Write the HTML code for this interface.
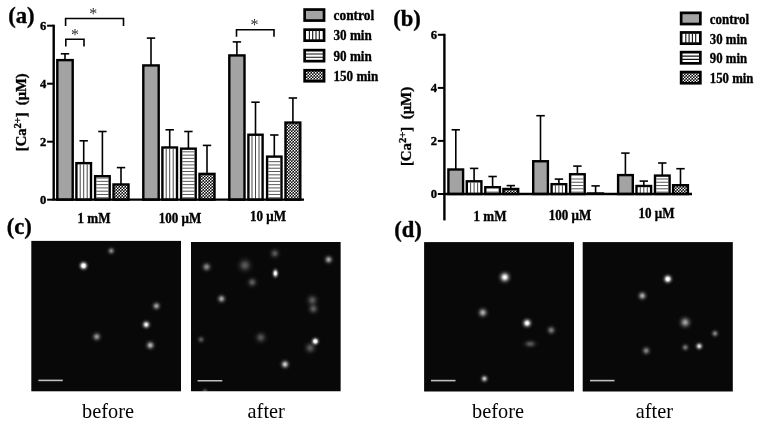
<!DOCTYPE html>
<html lang="en"><head><meta charset="utf-8"><title>Figure</title>
<style>html,body{margin:0;padding:0;background:#fff}svg{display:block}</style></head><body>
<svg width="762" height="426" viewBox="0 0 762 426">
<defs>
<pattern id="pc" width="3" height="3" patternUnits="userSpaceOnUse"><rect width="3" height="3" fill="#0a0a0a"/><circle cx="0.75" cy="0.75" r="0.84" fill="#fff"/><circle cx="2.25" cy="2.25" r="0.84" fill="#fff"/></pattern>
<radialGradient id="g80"><stop offset="0.0" stop-color="#fff" stop-opacity="0.314"/><stop offset="0.1" stop-color="#fff" stop-opacity="0.300"/><stop offset="0.2" stop-color="#fff" stop-opacity="0.262"/><stop offset="0.3" stop-color="#fff" stop-opacity="0.209"/><stop offset="0.4" stop-color="#fff" stop-opacity="0.153"/><stop offset="0.5" stop-color="#fff" stop-opacity="0.102"/><stop offset="0.6" stop-color="#fff" stop-opacity="0.062"/><stop offset="0.7" stop-color="#fff" stop-opacity="0.035"/><stop offset="0.8" stop-color="#fff" stop-opacity="0.018"/><stop offset="0.9" stop-color="#fff" stop-opacity="0.008"/><stop offset="1.0" stop-color="#fff" stop-opacity="0.000"/></radialGradient>
<radialGradient id="g85"><stop offset="0.0" stop-color="#fff" stop-opacity="0.333"/><stop offset="0.1" stop-color="#fff" stop-opacity="0.319"/><stop offset="0.2" stop-color="#fff" stop-opacity="0.278"/><stop offset="0.3" stop-color="#fff" stop-opacity="0.222"/><stop offset="0.4" stop-color="#fff" stop-opacity="0.162"/><stop offset="0.5" stop-color="#fff" stop-opacity="0.108"/><stop offset="0.6" stop-color="#fff" stop-opacity="0.066"/><stop offset="0.7" stop-color="#fff" stop-opacity="0.037"/><stop offset="0.8" stop-color="#fff" stop-opacity="0.019"/><stop offset="0.9" stop-color="#fff" stop-opacity="0.009"/><stop offset="1.0" stop-color="#fff" stop-opacity="0.000"/></radialGradient>
<radialGradient id="g90"><stop offset="0.0" stop-color="#fff" stop-opacity="0.353"/><stop offset="0.1" stop-color="#fff" stop-opacity="0.337"/><stop offset="0.2" stop-color="#fff" stop-opacity="0.295"/><stop offset="0.3" stop-color="#fff" stop-opacity="0.235"/><stop offset="0.4" stop-color="#fff" stop-opacity="0.172"/><stop offset="0.5" stop-color="#fff" stop-opacity="0.115"/><stop offset="0.6" stop-color="#fff" stop-opacity="0.070"/><stop offset="0.7" stop-color="#fff" stop-opacity="0.039"/><stop offset="0.8" stop-color="#fff" stop-opacity="0.020"/><stop offset="0.9" stop-color="#fff" stop-opacity="0.009"/><stop offset="1.0" stop-color="#fff" stop-opacity="0.000"/></radialGradient>
<radialGradient id="g115"><stop offset="0.0" stop-color="#fff" stop-opacity="0.451"/><stop offset="0.1" stop-color="#fff" stop-opacity="0.431"/><stop offset="0.2" stop-color="#fff" stop-opacity="0.377"/><stop offset="0.3" stop-color="#fff" stop-opacity="0.301"/><stop offset="0.4" stop-color="#fff" stop-opacity="0.220"/><stop offset="0.5" stop-color="#fff" stop-opacity="0.146"/><stop offset="0.6" stop-color="#fff" stop-opacity="0.089"/><stop offset="0.7" stop-color="#fff" stop-opacity="0.050"/><stop offset="0.8" stop-color="#fff" stop-opacity="0.025"/><stop offset="0.9" stop-color="#fff" stop-opacity="0.012"/><stop offset="1.0" stop-color="#fff" stop-opacity="0.000"/></radialGradient>
<radialGradient id="g120"><stop offset="0.0" stop-color="#fff" stop-opacity="0.471"/><stop offset="0.1" stop-color="#fff" stop-opacity="0.450"/><stop offset="0.2" stop-color="#fff" stop-opacity="0.393"/><stop offset="0.3" stop-color="#fff" stop-opacity="0.314"/><stop offset="0.4" stop-color="#fff" stop-opacity="0.229"/><stop offset="0.5" stop-color="#fff" stop-opacity="0.153"/><stop offset="0.6" stop-color="#fff" stop-opacity="0.093"/><stop offset="0.7" stop-color="#fff" stop-opacity="0.052"/><stop offset="0.8" stop-color="#fff" stop-opacity="0.026"/><stop offset="0.9" stop-color="#fff" stop-opacity="0.012"/><stop offset="1.0" stop-color="#fff" stop-opacity="0.000"/></radialGradient>
<radialGradient id="g130"><stop offset="0.0" stop-color="#fff" stop-opacity="0.510"/><stop offset="0.1" stop-color="#fff" stop-opacity="0.487"/><stop offset="0.2" stop-color="#fff" stop-opacity="0.426"/><stop offset="0.3" stop-color="#fff" stop-opacity="0.340"/><stop offset="0.4" stop-color="#fff" stop-opacity="0.248"/><stop offset="0.5" stop-color="#fff" stop-opacity="0.166"/><stop offset="0.6" stop-color="#fff" stop-opacity="0.101"/><stop offset="0.7" stop-color="#fff" stop-opacity="0.056"/><stop offset="0.8" stop-color="#fff" stop-opacity="0.029"/><stop offset="0.9" stop-color="#fff" stop-opacity="0.013"/><stop offset="1.0" stop-color="#fff" stop-opacity="0.000"/></radialGradient>
<radialGradient id="g135"><stop offset="0.0" stop-color="#fff" stop-opacity="0.529"/><stop offset="0.1" stop-color="#fff" stop-opacity="0.506"/><stop offset="0.2" stop-color="#fff" stop-opacity="0.442"/><stop offset="0.3" stop-color="#fff" stop-opacity="0.353"/><stop offset="0.4" stop-color="#fff" stop-opacity="0.258"/><stop offset="0.5" stop-color="#fff" stop-opacity="0.172"/><stop offset="0.6" stop-color="#fff" stop-opacity="0.105"/><stop offset="0.7" stop-color="#fff" stop-opacity="0.058"/><stop offset="0.8" stop-color="#fff" stop-opacity="0.030"/><stop offset="0.9" stop-color="#fff" stop-opacity="0.014"/><stop offset="1.0" stop-color="#fff" stop-opacity="0.000"/></radialGradient>
<radialGradient id="g150"><stop offset="0.0" stop-color="#fff" stop-opacity="0.588"/><stop offset="0.1" stop-color="#fff" stop-opacity="0.562"/><stop offset="0.2" stop-color="#fff" stop-opacity="0.491"/><stop offset="0.3" stop-color="#fff" stop-opacity="0.392"/><stop offset="0.4" stop-color="#fff" stop-opacity="0.286"/><stop offset="0.5" stop-color="#fff" stop-opacity="0.191"/><stop offset="0.6" stop-color="#fff" stop-opacity="0.116"/><stop offset="0.7" stop-color="#fff" stop-opacity="0.065"/><stop offset="0.8" stop-color="#fff" stop-opacity="0.033"/><stop offset="0.9" stop-color="#fff" stop-opacity="0.015"/><stop offset="1.0" stop-color="#fff" stop-opacity="0.000"/></radialGradient>
<radialGradient id="g160"><stop offset="0.0" stop-color="#fff" stop-opacity="0.627"/><stop offset="0.1" stop-color="#fff" stop-opacity="0.600"/><stop offset="0.2" stop-color="#fff" stop-opacity="0.524"/><stop offset="0.3" stop-color="#fff" stop-opacity="0.418"/><stop offset="0.4" stop-color="#fff" stop-opacity="0.305"/><stop offset="0.5" stop-color="#fff" stop-opacity="0.204"/><stop offset="0.6" stop-color="#fff" stop-opacity="0.124"/><stop offset="0.7" stop-color="#fff" stop-opacity="0.069"/><stop offset="0.8" stop-color="#fff" stop-opacity="0.035"/><stop offset="0.9" stop-color="#fff" stop-opacity="0.016"/><stop offset="1.0" stop-color="#fff" stop-opacity="0.000"/></radialGradient>
<radialGradient id="g165"><stop offset="0.0" stop-color="#fff" stop-opacity="0.647"/><stop offset="0.1" stop-color="#fff" stop-opacity="0.619"/><stop offset="0.2" stop-color="#fff" stop-opacity="0.540"/><stop offset="0.3" stop-color="#fff" stop-opacity="0.432"/><stop offset="0.4" stop-color="#fff" stop-opacity="0.315"/><stop offset="0.5" stop-color="#fff" stop-opacity="0.210"/><stop offset="0.6" stop-color="#fff" stop-opacity="0.128"/><stop offset="0.7" stop-color="#fff" stop-opacity="0.071"/><stop offset="0.8" stop-color="#fff" stop-opacity="0.036"/><stop offset="0.9" stop-color="#fff" stop-opacity="0.017"/><stop offset="1.0" stop-color="#fff" stop-opacity="0.000"/></radialGradient>
<radialGradient id="g172"><stop offset="0.0" stop-color="#fff" stop-opacity="0.675"/><stop offset="0.1" stop-color="#fff" stop-opacity="0.645"/><stop offset="0.2" stop-color="#fff" stop-opacity="0.563"/><stop offset="0.3" stop-color="#fff" stop-opacity="0.450"/><stop offset="0.4" stop-color="#fff" stop-opacity="0.328"/><stop offset="0.5" stop-color="#fff" stop-opacity="0.219"/><stop offset="0.6" stop-color="#fff" stop-opacity="0.133"/><stop offset="0.7" stop-color="#fff" stop-opacity="0.074"/><stop offset="0.8" stop-color="#fff" stop-opacity="0.038"/><stop offset="0.9" stop-color="#fff" stop-opacity="0.018"/><stop offset="1.0" stop-color="#fff" stop-opacity="0.000"/></radialGradient>
<radialGradient id="g180"><stop offset="0.0" stop-color="#fff" stop-opacity="0.706"/><stop offset="0.1" stop-color="#fff" stop-opacity="0.675"/><stop offset="0.2" stop-color="#fff" stop-opacity="0.590"/><stop offset="0.3" stop-color="#fff" stop-opacity="0.471"/><stop offset="0.4" stop-color="#fff" stop-opacity="0.344"/><stop offset="0.5" stop-color="#fff" stop-opacity="0.229"/><stop offset="0.6" stop-color="#fff" stop-opacity="0.140"/><stop offset="0.7" stop-color="#fff" stop-opacity="0.078"/><stop offset="0.8" stop-color="#fff" stop-opacity="0.040"/><stop offset="0.9" stop-color="#fff" stop-opacity="0.018"/><stop offset="1.0" stop-color="#fff" stop-opacity="0.000"/></radialGradient>
<radialGradient id="g200"><stop offset="0.0" stop-color="#fff" stop-opacity="0.784"/><stop offset="0.1" stop-color="#fff" stop-opacity="0.750"/><stop offset="0.2" stop-color="#fff" stop-opacity="0.655"/><stop offset="0.3" stop-color="#fff" stop-opacity="0.523"/><stop offset="0.4" stop-color="#fff" stop-opacity="0.382"/><stop offset="0.5" stop-color="#fff" stop-opacity="0.255"/><stop offset="0.6" stop-color="#fff" stop-opacity="0.155"/><stop offset="0.7" stop-color="#fff" stop-opacity="0.086"/><stop offset="0.8" stop-color="#fff" stop-opacity="0.044"/><stop offset="0.9" stop-color="#fff" stop-opacity="0.020"/><stop offset="1.0" stop-color="#fff" stop-opacity="0.000"/></radialGradient>
<radialGradient id="g210"><stop offset="0.0" stop-color="#fff" stop-opacity="0.824"/><stop offset="0.1" stop-color="#fff" stop-opacity="0.787"/><stop offset="0.2" stop-color="#fff" stop-opacity="0.688"/><stop offset="0.3" stop-color="#fff" stop-opacity="0.549"/><stop offset="0.4" stop-color="#fff" stop-opacity="0.401"/><stop offset="0.5" stop-color="#fff" stop-opacity="0.267"/><stop offset="0.6" stop-color="#fff" stop-opacity="0.163"/><stop offset="0.7" stop-color="#fff" stop-opacity="0.091"/><stop offset="0.8" stop-color="#fff" stop-opacity="0.046"/><stop offset="0.9" stop-color="#fff" stop-opacity="0.022"/><stop offset="1.0" stop-color="#fff" stop-opacity="0.000"/></radialGradient>
<radialGradient id="g230"><stop offset="0.0" stop-color="#fff" stop-opacity="0.902"/><stop offset="0.1" stop-color="#fff" stop-opacity="0.862"/><stop offset="0.2" stop-color="#fff" stop-opacity="0.753"/><stop offset="0.3" stop-color="#fff" stop-opacity="0.602"/><stop offset="0.4" stop-color="#fff" stop-opacity="0.439"/><stop offset="0.5" stop-color="#fff" stop-opacity="0.293"/><stop offset="0.6" stop-color="#fff" stop-opacity="0.178"/><stop offset="0.7" stop-color="#fff" stop-opacity="0.099"/><stop offset="0.8" stop-color="#fff" stop-opacity="0.051"/><stop offset="0.9" stop-color="#fff" stop-opacity="0.024"/><stop offset="1.0" stop-color="#fff" stop-opacity="0.000"/></radialGradient>
<radialGradient id="g260"><stop offset="0.0" stop-color="#fff" stop-opacity="1.000"/><stop offset="0.1" stop-color="#fff" stop-opacity="0.975"/><stop offset="0.2" stop-color="#fff" stop-opacity="0.852"/><stop offset="0.3" stop-color="#fff" stop-opacity="0.680"/><stop offset="0.4" stop-color="#fff" stop-opacity="0.496"/><stop offset="0.5" stop-color="#fff" stop-opacity="0.331"/><stop offset="0.6" stop-color="#fff" stop-opacity="0.202"/><stop offset="0.7" stop-color="#fff" stop-opacity="0.112"/><stop offset="0.8" stop-color="#fff" stop-opacity="0.057"/><stop offset="0.9" stop-color="#fff" stop-opacity="0.027"/><stop offset="1.0" stop-color="#fff" stop-opacity="0.000"/></radialGradient>
<radialGradient id="g270"><stop offset="0.0" stop-color="#fff" stop-opacity="1.000"/><stop offset="0.1" stop-color="#fff" stop-opacity="1.000"/><stop offset="0.2" stop-color="#fff" stop-opacity="0.884"/><stop offset="0.3" stop-color="#fff" stop-opacity="0.706"/><stop offset="0.4" stop-color="#fff" stop-opacity="0.515"/><stop offset="0.5" stop-color="#fff" stop-opacity="0.344"/><stop offset="0.6" stop-color="#fff" stop-opacity="0.210"/><stop offset="0.7" stop-color="#fff" stop-opacity="0.117"/><stop offset="0.8" stop-color="#fff" stop-opacity="0.059"/><stop offset="0.9" stop-color="#fff" stop-opacity="0.028"/><stop offset="1.0" stop-color="#fff" stop-opacity="0.000"/></radialGradient>
<radialGradient id="g290"><stop offset="0.0" stop-color="#fff" stop-opacity="1.000"/><stop offset="0.1" stop-color="#fff" stop-opacity="1.000"/><stop offset="0.2" stop-color="#fff" stop-opacity="0.950"/><stop offset="0.3" stop-color="#fff" stop-opacity="0.759"/><stop offset="0.4" stop-color="#fff" stop-opacity="0.554"/><stop offset="0.5" stop-color="#fff" stop-opacity="0.369"/><stop offset="0.6" stop-color="#fff" stop-opacity="0.225"/><stop offset="0.7" stop-color="#fff" stop-opacity="0.125"/><stop offset="0.8" stop-color="#fff" stop-opacity="0.064"/><stop offset="0.9" stop-color="#fff" stop-opacity="0.030"/><stop offset="1.0" stop-color="#fff" stop-opacity="0.000"/></radialGradient>
<radialGradient id="g300"><stop offset="0.0" stop-color="#fff" stop-opacity="1.000"/><stop offset="0.1" stop-color="#fff" stop-opacity="1.000"/><stop offset="0.2" stop-color="#fff" stop-opacity="0.983"/><stop offset="0.3" stop-color="#fff" stop-opacity="0.785"/><stop offset="0.4" stop-color="#fff" stop-opacity="0.573"/><stop offset="0.5" stop-color="#fff" stop-opacity="0.382"/><stop offset="0.6" stop-color="#fff" stop-opacity="0.233"/><stop offset="0.7" stop-color="#fff" stop-opacity="0.130"/><stop offset="0.8" stop-color="#fff" stop-opacity="0.066"/><stop offset="0.9" stop-color="#fff" stop-opacity="0.031"/><stop offset="1.0" stop-color="#fff" stop-opacity="0.000"/></radialGradient>
<radialGradient id="g320"><stop offset="0.0" stop-color="#fff" stop-opacity="1.000"/><stop offset="0.1" stop-color="#fff" stop-opacity="1.000"/><stop offset="0.2" stop-color="#fff" stop-opacity="1.000"/><stop offset="0.3" stop-color="#fff" stop-opacity="0.837"/><stop offset="0.4" stop-color="#fff" stop-opacity="0.611"/><stop offset="0.5" stop-color="#fff" stop-opacity="0.407"/><stop offset="0.6" stop-color="#fff" stop-opacity="0.248"/><stop offset="0.7" stop-color="#fff" stop-opacity="0.138"/><stop offset="0.8" stop-color="#fff" stop-opacity="0.070"/><stop offset="0.9" stop-color="#fff" stop-opacity="0.033"/><stop offset="1.0" stop-color="#fff" stop-opacity="0.000"/></radialGradient>
<radialGradient id="g330"><stop offset="0.0" stop-color="#fff" stop-opacity="1.000"/><stop offset="0.1" stop-color="#fff" stop-opacity="1.000"/><stop offset="0.2" stop-color="#fff" stop-opacity="1.000"/><stop offset="0.3" stop-color="#fff" stop-opacity="0.863"/><stop offset="0.4" stop-color="#fff" stop-opacity="0.630"/><stop offset="0.5" stop-color="#fff" stop-opacity="0.420"/><stop offset="0.6" stop-color="#fff" stop-opacity="0.256"/><stop offset="0.7" stop-color="#fff" stop-opacity="0.143"/><stop offset="0.8" stop-color="#fff" stop-opacity="0.073"/><stop offset="0.9" stop-color="#fff" stop-opacity="0.034"/><stop offset="1.0" stop-color="#fff" stop-opacity="0.000"/></radialGradient>
<radialGradient id="g340"><stop offset="0.0" stop-color="#fff" stop-opacity="1.000"/><stop offset="0.1" stop-color="#fff" stop-opacity="1.000"/><stop offset="0.2" stop-color="#fff" stop-opacity="1.000"/><stop offset="0.3" stop-color="#fff" stop-opacity="0.889"/><stop offset="0.4" stop-color="#fff" stop-opacity="0.649"/><stop offset="0.5" stop-color="#fff" stop-opacity="0.433"/><stop offset="0.6" stop-color="#fff" stop-opacity="0.264"/><stop offset="0.7" stop-color="#fff" stop-opacity="0.147"/><stop offset="0.8" stop-color="#fff" stop-opacity="0.075"/><stop offset="0.9" stop-color="#fff" stop-opacity="0.035"/><stop offset="1.0" stop-color="#fff" stop-opacity="0.000"/></radialGradient>
</defs>
<rect width="762" height="426" fill="#fff"/>
<line x1="53.7" y1="24.7" x2="53.7" y2="199.7" stroke="#000" stroke-width="2.4"/>
<line x1="47.1" y1="199.7" x2="53.7" y2="199.7" stroke="#000" stroke-width="2"/>
<text transform="translate(46.4,204.0) scale(1,1)" text-anchor="end" font-family="Liberation Serif, serif" font-weight="bold" stroke="#000" stroke-width="0.35" font-size="12.6">0</text>
<line x1="47.1" y1="141.7" x2="53.7" y2="141.7" stroke="#000" stroke-width="2"/>
<text transform="translate(46.4,146.0) scale(1,1)" text-anchor="end" font-family="Liberation Serif, serif" font-weight="bold" stroke="#000" stroke-width="0.35" font-size="12.6">2</text>
<line x1="47.1" y1="83.7" x2="53.7" y2="83.7" stroke="#000" stroke-width="2"/>
<text transform="translate(46.4,88.0) scale(1,1)" text-anchor="end" font-family="Liberation Serif, serif" font-weight="bold" stroke="#000" stroke-width="0.35" font-size="12.6">4</text>
<line x1="47.1" y1="25.7" x2="53.7" y2="25.7" stroke="#000" stroke-width="2"/>
<text transform="translate(46.4,30.0) scale(1,1)" text-anchor="end" font-family="Liberation Serif, serif" font-weight="bold" stroke="#000" stroke-width="0.35" font-size="12.6">6</text>
<line x1="65.0" y1="53.8" x2="65.0" y2="59.9" stroke="#000" stroke-width="1.6"/>
<line x1="60.8" y1="53.8" x2="69.2" y2="53.8" stroke="#000" stroke-width="1.6"/>
<rect x="57.30" y="60.11" width="15.40" height="139.54" fill="#a3a3a3" stroke="#000" stroke-width="2.4"/>
<line x1="83.7" y1="140.8" x2="83.7" y2="162.9" stroke="#000" stroke-width="1.6"/>
<line x1="79.5" y1="140.8" x2="87.9" y2="140.8" stroke="#000" stroke-width="1.6"/>
<rect x="76.40" y="163.15" width="14.60" height="36.50" fill="#fff" stroke="#000" stroke-width="2.4"/>
<path d="M80.20 164.35V199.65M83.70 164.35V199.65M87.20 164.35V199.65" stroke="#333" stroke-width="0.9" fill="none"/>
<line x1="102.4" y1="131.5" x2="102.4" y2="176.0" stroke="#000" stroke-width="1.6"/>
<line x1="98.2" y1="131.5" x2="106.6" y2="131.5" stroke="#000" stroke-width="1.6"/>
<rect x="95.10" y="176.20" width="14.60" height="23.45" fill="#fff" stroke="#000" stroke-width="2.4"/>
<path d="M96.30 197.75H108.50M96.30 194.47H108.50M96.30 191.19H108.50M96.30 187.91H108.50M96.30 184.63H108.50M96.30 181.35H108.50M96.30 178.07H108.50" stroke="#3a3a3a" stroke-width="0.85" fill="none"/>
<line x1="121.0" y1="167.6" x2="121.0" y2="184.3" stroke="#000" stroke-width="1.6"/>
<line x1="116.8" y1="167.6" x2="125.2" y2="167.6" stroke="#000" stroke-width="1.6"/>
<rect x="113.50" y="184.47" width="15.00" height="15.18" fill="url(#pc)" stroke="#000" stroke-width="2.4"/>
<line x1="151.0" y1="38.1" x2="151.0" y2="65.2" stroke="#000" stroke-width="1.6"/>
<line x1="146.8" y1="38.1" x2="155.2" y2="38.1" stroke="#000" stroke-width="1.6"/>
<rect x="143.30" y="65.42" width="15.40" height="134.23" fill="#a3a3a3" stroke="#000" stroke-width="2.4"/>
<line x1="169.7" y1="129.8" x2="169.7" y2="147.3" stroke="#000" stroke-width="1.6"/>
<line x1="165.5" y1="129.8" x2="173.9" y2="129.8" stroke="#000" stroke-width="1.6"/>
<rect x="162.40" y="147.49" width="14.60" height="52.16" fill="#fff" stroke="#000" stroke-width="2.4"/>
<path d="M166.20 148.69V199.65M169.70 148.69V199.65M173.20 148.69V199.65" stroke="#333" stroke-width="0.9" fill="none"/>
<line x1="188.4" y1="131.5" x2="188.4" y2="148.4" stroke="#000" stroke-width="1.6"/>
<line x1="184.2" y1="131.5" x2="192.6" y2="131.5" stroke="#000" stroke-width="1.6"/>
<rect x="181.10" y="148.65" width="14.60" height="51.00" fill="#fff" stroke="#000" stroke-width="2.4"/>
<path d="M182.30 197.75H194.50M182.30 194.47H194.50M182.30 191.19H194.50M182.30 187.91H194.50M182.30 184.63H194.50M182.30 181.35H194.50M182.30 178.07H194.50M182.30 174.79H194.50M182.30 171.51H194.50M182.30 168.23H194.50M182.30 164.95H194.50M182.30 161.67H194.50M182.30 158.39H194.50M182.30 155.11H194.50M182.30 151.83H194.50" stroke="#3a3a3a" stroke-width="0.85" fill="none"/>
<line x1="207.0" y1="145.4" x2="207.0" y2="173.7" stroke="#000" stroke-width="1.6"/>
<line x1="202.8" y1="145.4" x2="211.2" y2="145.4" stroke="#000" stroke-width="1.6"/>
<rect x="199.50" y="173.88" width="15.00" height="25.77" fill="url(#pc)" stroke="#000" stroke-width="2.4"/>
<line x1="236.9" y1="41.9" x2="236.9" y2="55.2" stroke="#000" stroke-width="1.6"/>
<line x1="232.7" y1="41.9" x2="241.1" y2="41.9" stroke="#000" stroke-width="1.6"/>
<rect x="229.30" y="55.42" width="15.20" height="144.24" fill="#a3a3a3" stroke="#000" stroke-width="2.4"/>
<line x1="255.5" y1="102.2" x2="255.5" y2="134.5" stroke="#000" stroke-width="1.6"/>
<line x1="251.3" y1="102.2" x2="259.7" y2="102.2" stroke="#000" stroke-width="1.6"/>
<rect x="248.40" y="134.73" width="14.20" height="64.92" fill="#fff" stroke="#000" stroke-width="2.4"/>
<path d="M252.00 135.93V199.65M255.50 135.93V199.65M259.00 135.93V199.65" stroke="#333" stroke-width="0.9" fill="none"/>
<line x1="274.3" y1="135.0" x2="274.3" y2="156.4" stroke="#000" stroke-width="1.6"/>
<line x1="270.1" y1="135.0" x2="278.5" y2="135.0" stroke="#000" stroke-width="1.6"/>
<rect x="267.10" y="156.62" width="14.40" height="43.02" fill="#fff" stroke="#000" stroke-width="2.4"/>
<path d="M268.30 197.75H280.30M268.30 194.47H280.30M268.30 191.19H280.30M268.30 187.91H280.30M268.30 184.63H280.30M268.30 181.35H280.30M268.30 178.07H280.30M268.30 174.79H280.30M268.30 171.51H280.30M268.30 168.23H280.30M268.30 164.95H280.30M268.30 161.67H280.30" stroke="#3a3a3a" stroke-width="0.85" fill="none"/>
<line x1="292.9" y1="98.0" x2="292.9" y2="122.3" stroke="#000" stroke-width="1.6"/>
<line x1="288.7" y1="98.0" x2="297.1" y2="98.0" stroke="#000" stroke-width="1.6"/>
<rect x="285.50" y="122.55" width="14.80" height="77.10" fill="url(#pc)" stroke="#000" stroke-width="2.4"/>
<line x1="52.5" y1="199.65" x2="304" y2="199.65" stroke="#000" stroke-width="2.4"/>
<rect x="304.65" y="9.55" width="19.40" height="11.00" fill="#a3a3a3" stroke="#000" stroke-width="2.7"/>
<text transform="translate(333.5,19.5) scale(0.945,1)" text-anchor="start" font-family="Liberation Serif, serif" font-weight="bold" stroke="#000" stroke-width="0.35" font-size="14.2">control</text>
<rect x="304.65" y="29.65" width="19.40" height="11.00" fill="#fff" stroke="#000" stroke-width="2.7"/>
<path d="M309.40 29.30V41.00M312.70 29.30V41.00M316.00 29.30V41.00M319.30 29.30V41.00" stroke="#111" stroke-width="1.1" fill="none"/>
<text transform="translate(333.5,40.0) scale(0.925,1)" text-anchor="start" font-family="Liberation Serif, serif" font-weight="bold" stroke="#000" stroke-width="0.35" font-size="14.2">30 min</text>
<rect x="304.65" y="50.15" width="19.40" height="11.00" fill="#fff" stroke="#000" stroke-width="2.7"/>
<path d="M304.30 54.00H324.40M304.30 57.30H324.40" stroke="#111" stroke-width="1.1" fill="none"/>
<text transform="translate(333.5,60.6) scale(0.925,1)" text-anchor="start" font-family="Liberation Serif, serif" font-weight="bold" stroke="#000" stroke-width="0.35" font-size="14.2">90 min</text>
<rect x="304.65" y="70.25" width="19.40" height="11.00" fill="url(#pc)" stroke="#000" stroke-width="2.7"/>
<text transform="translate(333.5,80.8) scale(0.925,1)" text-anchor="start" font-family="Liberation Serif, serif" font-weight="bold" stroke="#000" stroke-width="0.35" font-size="14.2">150 min</text>
<text transform="translate(26.2,112.3) rotate(-90) scale(1,0.945)" text-anchor="middle" font-family="Liberation Serif, serif" font-weight="bold" stroke="#000" stroke-width="0.35" font-size="14.6" xml:space="preserve">[Ca<tspan dy="-5.5" font-size="10.5">2+</tspan><tspan dy="5.5">]  (μM)</tspan></text>
<text transform="translate(8.3,23.4) scale(1,1)" text-anchor="start" font-family="Liberation Serif, serif" font-weight="bold" stroke="#000" stroke-width="0.35" font-size="22.6">(a)</text>
<text transform="translate(94,222.8) scale(0.945,1)" text-anchor="middle" font-family="Liberation Serif, serif" font-weight="bold" stroke="#000" stroke-width="0.35" font-size="13.8">1 mM</text>
<text transform="translate(180,223.3) scale(0.945,1)" text-anchor="middle" font-family="Liberation Serif, serif" font-weight="bold" stroke="#000" stroke-width="0.35" font-size="13.8">100 μM</text>
<text transform="translate(268,220.8) scale(0.945,1)" text-anchor="middle" font-family="Liberation Serif, serif" font-weight="bold" stroke="#000" stroke-width="0.35" font-size="13.8">10 μM</text>
<path d="M65.6 26V18.5H123.5V26" fill="none" stroke="#000" stroke-width="1.6"/><text transform="translate(93.3,19.0) scale(1,1)" text-anchor="middle" font-family="Liberation Serif, serif" font-size="16" fill="#2a2a2a">*</text>
<path d="M65.8 46.6V39.3H84V46.6" fill="none" stroke="#000" stroke-width="1.6"/><text transform="translate(74.9,40.0) scale(1,1)" text-anchor="middle" font-family="Liberation Serif, serif" font-size="16" fill="#2a2a2a">*</text>
<path d="M236.5 36.8V29.8H274.0V36.8" fill="none" stroke="#000" stroke-width="1.6"/><text transform="translate(254.4,30.0) scale(1,1)" text-anchor="middle" font-family="Liberation Serif, serif" font-size="16" fill="#2a2a2a">*</text>
<line x1="444.4" y1="33.8" x2="444.4" y2="220.4" stroke="#000" stroke-width="2.4"/>
<line x1="437.8" y1="194.0" x2="444.4" y2="194.0" stroke="#000" stroke-width="2"/>
<text transform="translate(437.1,198.3) scale(1,1)" text-anchor="end" font-family="Liberation Serif, serif" font-weight="bold" stroke="#000" stroke-width="0.35" font-size="12.6">0</text>
<line x1="437.8" y1="140.9" x2="444.4" y2="140.9" stroke="#000" stroke-width="2"/>
<text transform="translate(437.1,145.2) scale(1,1)" text-anchor="end" font-family="Liberation Serif, serif" font-weight="bold" stroke="#000" stroke-width="0.35" font-size="12.6">2</text>
<line x1="437.8" y1="87.9" x2="444.4" y2="87.9" stroke="#000" stroke-width="2"/>
<text transform="translate(437.1,92.2) scale(1,1)" text-anchor="end" font-family="Liberation Serif, serif" font-weight="bold" stroke="#000" stroke-width="0.35" font-size="12.6">4</text>
<line x1="437.8" y1="34.8" x2="444.4" y2="34.8" stroke="#000" stroke-width="2"/>
<text transform="translate(437.1,39.1) scale(1,1)" text-anchor="end" font-family="Liberation Serif, serif" font-weight="bold" stroke="#000" stroke-width="0.35" font-size="12.6">6</text>
<line x1="455.8" y1="129.8" x2="455.8" y2="169.3" stroke="#000" stroke-width="1.6"/>
<line x1="451.6" y1="129.8" x2="459.9" y2="129.8" stroke="#000" stroke-width="1.6"/>
<rect x="448.40" y="169.49" width="14.70" height="24.51" fill="#a3a3a3" stroke="#000" stroke-width="2.4"/>
<line x1="474.1" y1="168.4" x2="474.1" y2="181.1" stroke="#000" stroke-width="1.6"/>
<line x1="469.9" y1="168.4" x2="478.3" y2="168.4" stroke="#000" stroke-width="1.6"/>
<rect x="466.80" y="181.30" width="14.60" height="12.70" fill="#fff" stroke="#000" stroke-width="2.4"/>
<path d="M470.60 182.50V194.00M474.10 182.50V194.00M477.60 182.50V194.00" stroke="#333" stroke-width="0.9" fill="none"/>
<line x1="492.6" y1="176.5" x2="492.6" y2="187.0" stroke="#000" stroke-width="1.6"/>
<line x1="488.4" y1="176.5" x2="496.8" y2="176.5" stroke="#000" stroke-width="1.6"/>
<rect x="485.30" y="187.24" width="14.60" height="6.76" fill="#fff" stroke="#000" stroke-width="2.4"/>
<path d="M486.50 192.10H498.70" stroke="#3a3a3a" stroke-width="0.85" fill="none"/>
<line x1="510.8" y1="185.6" x2="510.8" y2="188.8" stroke="#000" stroke-width="1.6"/>
<line x1="506.6" y1="185.6" x2="515.0" y2="185.6" stroke="#000" stroke-width="1.6"/>
<rect x="503.40" y="188.99" width="14.80" height="5.01" fill="url(#pc)" stroke="#000" stroke-width="2.4"/>
<line x1="540.5" y1="115.7" x2="540.5" y2="161.0" stroke="#000" stroke-width="1.6"/>
<line x1="536.3" y1="115.7" x2="544.8" y2="115.7" stroke="#000" stroke-width="1.6"/>
<rect x="533.20" y="161.24" width="14.70" height="32.76" fill="#a3a3a3" stroke="#000" stroke-width="2.4"/>
<line x1="558.9" y1="179.1" x2="558.9" y2="184.0" stroke="#000" stroke-width="1.6"/>
<line x1="554.7" y1="179.1" x2="563.1" y2="179.1" stroke="#000" stroke-width="1.6"/>
<rect x="551.60" y="184.19" width="14.60" height="9.81" fill="#fff" stroke="#000" stroke-width="2.4"/>
<path d="M555.40 185.39V194.00M558.90 185.39V194.00M562.40 185.39V194.00" stroke="#333" stroke-width="0.9" fill="none"/>
<line x1="577.4" y1="166.1" x2="577.4" y2="174.0" stroke="#000" stroke-width="1.6"/>
<line x1="573.2" y1="166.1" x2="581.6" y2="166.1" stroke="#000" stroke-width="1.6"/>
<rect x="570.10" y="174.24" width="14.60" height="19.76" fill="#fff" stroke="#000" stroke-width="2.4"/>
<path d="M571.30 192.10H583.50M571.30 188.82H583.50M571.30 185.54H583.50M571.30 182.26H583.50M571.30 178.98H583.50" stroke="#3a3a3a" stroke-width="0.85" fill="none"/>
<line x1="595.6" y1="185.9" x2="595.6" y2="193.4" stroke="#000" stroke-width="1.6"/>
<line x1="591.4" y1="185.9" x2="599.8" y2="185.9" stroke="#000" stroke-width="1.6"/>
<line x1="587.0" y1="193.0" x2="604.2" y2="193.0" stroke="#000" stroke-width="1.4"/>
<line x1="625.4" y1="153.1" x2="625.4" y2="174.9" stroke="#000" stroke-width="1.6"/>
<line x1="621.2" y1="153.1" x2="629.6" y2="153.1" stroke="#000" stroke-width="1.6"/>
<rect x="618.10" y="175.09" width="14.70" height="18.91" fill="#a3a3a3" stroke="#000" stroke-width="2.4"/>
<line x1="643.8" y1="181.1" x2="643.8" y2="185.8" stroke="#000" stroke-width="1.6"/>
<line x1="639.6" y1="181.1" x2="648.0" y2="181.1" stroke="#000" stroke-width="1.6"/>
<rect x="636.50" y="185.99" width="14.60" height="8.01" fill="#fff" stroke="#000" stroke-width="2.4"/>
<path d="M640.30 187.19V194.00M643.80 187.19V194.00M647.30 187.19V194.00" stroke="#333" stroke-width="0.9" fill="none"/>
<line x1="662.3" y1="163.0" x2="662.3" y2="175.4" stroke="#000" stroke-width="1.6"/>
<line x1="658.1" y1="163.0" x2="666.5" y2="163.0" stroke="#000" stroke-width="1.6"/>
<rect x="655.00" y="175.59" width="14.60" height="18.41" fill="#fff" stroke="#000" stroke-width="2.4"/>
<path d="M656.20 192.10H668.40M656.20 188.82H668.40M656.20 185.54H668.40M656.20 182.26H668.40M656.20 178.98H668.40" stroke="#3a3a3a" stroke-width="0.85" fill="none"/>
<line x1="680.5" y1="168.7" x2="680.5" y2="185.0" stroke="#000" stroke-width="1.6"/>
<line x1="676.3" y1="168.7" x2="684.7" y2="168.7" stroke="#000" stroke-width="1.6"/>
<rect x="673.10" y="185.20" width="14.80" height="8.80" fill="url(#pc)" stroke="#000" stroke-width="2.4"/>
<line x1="443.2" y1="194.00" x2="692" y2="194.00" stroke="#000" stroke-width="2.4"/>
<rect x="681.15" y="12.85" width="19.20" height="11.20" fill="#a3a3a3" stroke="#000" stroke-width="2.7"/>
<text transform="translate(709.8,23.8) scale(0.935,1)" text-anchor="start" font-family="Liberation Serif, serif" font-weight="bold" stroke="#000" stroke-width="0.35" font-size="13.9">control</text>
<rect x="681.15" y="32.45" width="19.20" height="11.20" fill="#fff" stroke="#000" stroke-width="2.7"/>
<path d="M685.80 32.10V44.00M689.10 32.10V44.00M692.40 32.10V44.00M695.70 32.10V44.00" stroke="#111" stroke-width="1.1" fill="none"/>
<text transform="translate(709.8,43.5) scale(0.92,1)" text-anchor="start" font-family="Liberation Serif, serif" font-weight="bold" stroke="#000" stroke-width="0.35" font-size="13.9">30 min</text>
<rect x="681.15" y="52.15" width="19.20" height="11.20" fill="#fff" stroke="#000" stroke-width="2.7"/>
<path d="M680.80 56.10H700.70M680.80 59.40H700.70" stroke="#111" stroke-width="1.1" fill="none"/>
<text transform="translate(709.8,63.0) scale(0.92,1)" text-anchor="start" font-family="Liberation Serif, serif" font-weight="bold" stroke="#000" stroke-width="0.35" font-size="13.9">90 min</text>
<rect x="681.15" y="72.05" width="19.20" height="11.20" fill="url(#pc)" stroke="#000" stroke-width="2.7"/>
<text transform="translate(709.8,82.9) scale(0.92,1)" text-anchor="start" font-family="Liberation Serif, serif" font-weight="bold" stroke="#000" stroke-width="0.35" font-size="13.9">150 min</text>
<text transform="translate(411.4,126.5) rotate(-90) scale(1,0.945)" text-anchor="middle" font-family="Liberation Serif, serif" font-weight="bold" stroke="#000" stroke-width="0.35" font-size="14.9" xml:space="preserve">[Ca<tspan dy="-5.5" font-size="10.5">2+</tspan><tspan dy="5.5">]  (μM)</tspan></text>
<text transform="translate(393.2,25.8) scale(1,1)" text-anchor="start" font-family="Liberation Serif, serif" font-weight="bold" stroke="#000" stroke-width="0.35" font-size="22.6">(b)</text>
<text transform="translate(490,220.9) scale(0.945,1)" text-anchor="middle" font-family="Liberation Serif, serif" font-weight="bold" stroke="#000" stroke-width="0.35" font-size="13.8">1 mM</text>
<text transform="translate(570,220.2) scale(0.945,1)" text-anchor="middle" font-family="Liberation Serif, serif" font-weight="bold" stroke="#000" stroke-width="0.35" font-size="13.8">100 μM</text>
<text transform="translate(656.5,218.1) scale(0.945,1)" text-anchor="middle" font-family="Liberation Serif, serif" font-weight="bold" stroke="#000" stroke-width="0.35" font-size="13.8">10 μM</text>
<text transform="translate(6.8,234.3) scale(1,1)" text-anchor="start" font-family="Liberation Serif, serif" font-weight="bold" stroke="#000" stroke-width="0.35" font-size="22.6">(c)</text>
<text transform="translate(394.2,237.2) scale(1,1)" text-anchor="start" font-family="Liberation Serif, serif" font-weight="bold" stroke="#000" stroke-width="0.35" font-size="22.6">(d)</text>
<rect x="31.3" y="240.9" width="149.7" height="150.4" fill="#080808"/>
<ellipse cx="83.5" cy="265.7" rx="6.3" ry="6.3" fill="url(#g340)"/>
<ellipse cx="111.2" cy="250.9" rx="5.6" ry="5.6" fill="url(#g135)"/>
<ellipse cx="156.4" cy="306" rx="6.3" ry="6.3" fill="url(#g160)"/>
<ellipse cx="146.2" cy="324.6" rx="6.1" ry="6.1" fill="url(#g260)"/>
<ellipse cx="96.7" cy="336.7" rx="6.7" ry="6.7" fill="url(#g150)"/>
<ellipse cx="150.3" cy="345.3" rx="6.7" ry="6.7" fill="url(#g180)"/>
<line x1="38.4" y1="380.4" x2="62.8" y2="380.4" stroke="#c0c0c0" stroke-width="1.6"/>
<clipPath id="c2"><rect x="191" y="241.9" width="149.8" height="149.6"/></clipPath><g clip-path="url(#c2)">
<rect x="191" y="241.9" width="149.8" height="149.6" fill="#080808"/>
<ellipse cx="206.6" cy="266.9" rx="7.0" ry="7.0" fill="url(#g135)"/>
<ellipse cx="244.9" cy="265.3" rx="10.2" ry="10.2" fill="url(#g85)"/>
<ellipse cx="274.8" cy="253.4" rx="7.4" ry="7.4" fill="url(#g85)"/>
<ellipse cx="275.4" cy="273.3" rx="4.6" ry="6.7" fill="url(#g300)"/>
<ellipse cx="252.2" cy="282.3" rx="7.4" ry="7.4" fill="url(#g90)"/>
<ellipse cx="328.6" cy="259.6" rx="6.5" ry="6.5" fill="url(#g165)"/>
<ellipse cx="221.5" cy="298.8" rx="6.5" ry="6.5" fill="url(#g165)"/>
<ellipse cx="312.3" cy="300.2" rx="8.5" ry="8.5" fill="url(#g85)"/>
<ellipse cx="313.3" cy="308.8" rx="7.8" ry="7.8" fill="url(#g90)"/>
<ellipse cx="201" cy="339.5" rx="5.6" ry="5.6" fill="url(#g85)"/>
<ellipse cx="260.8" cy="337.5" rx="8.5" ry="8.5" fill="url(#g80)"/>
<ellipse cx="315.3" cy="341.3" rx="5.6" ry="5.6" fill="url(#g330)"/>
<ellipse cx="310.3" cy="347.9" rx="8.5" ry="8.5" fill="url(#g85)"/>
<ellipse cx="285" cy="364.3" rx="6.5" ry="6.5" fill="url(#g210)"/>
<ellipse cx="205" cy="391.2" rx="4.6" ry="4.6" fill="url(#g85)"/>
<line x1="197.6" y1="380.8" x2="222.3" y2="380.8" stroke="#c0c0c0" stroke-width="1.6"/>
</g>
<rect x="424.1" y="242.1" width="149.9" height="149.4" fill="#080808"/>
<ellipse cx="504.8" cy="277.2" rx="8.1" ry="8.1" fill="url(#g270)"/>
<ellipse cx="482.8" cy="312.6" rx="7.4" ry="7.4" fill="url(#g172)"/>
<ellipse cx="527.1" cy="323.1" rx="6.8" ry="6.8" fill="url(#g290)"/>
<ellipse cx="551.2" cy="330.2" rx="6.7" ry="6.7" fill="url(#g120)"/>
<ellipse cx="530.2" cy="343.9" rx="9.6" ry="5.9" fill="url(#g85)"/>
<ellipse cx="484.4" cy="378.7" rx="5.6" ry="5.6" fill="url(#g200)"/>
<line x1="431" y1="380.6" x2="455.5" y2="380.6" stroke="#c0c0c0" stroke-width="1.6"/>
<rect x="582.7" y="242.1" width="150.1" height="149.4" fill="#080808"/>
<ellipse cx="667.8" cy="279" rx="6.5" ry="6.5" fill="url(#g320)"/>
<ellipse cx="642.3" cy="295.8" rx="6.7" ry="6.7" fill="url(#g172)"/>
<ellipse cx="685.2" cy="322.4" rx="8.5" ry="8.5" fill="url(#g160)"/>
<ellipse cx="715" cy="333.5" rx="5.6" ry="5.6" fill="url(#g130)"/>
<ellipse cx="699.2" cy="346.2" rx="5.6" ry="5.6" fill="url(#g230)"/>
<ellipse cx="685.3" cy="347.4" rx="5.6" ry="5.6" fill="url(#g115)"/>
<ellipse cx="646.2" cy="350.7" rx="6.5" ry="6.5" fill="url(#g130)"/>
<line x1="590" y1="380.6" x2="614.5" y2="380.6" stroke="#c0c0c0" stroke-width="1.6"/>
<text transform="translate(108,417.5) scale(0.945,1)" text-anchor="middle" font-family="Liberation Serif, serif" font-size="21.5">before</text>
<text transform="translate(266.2,417.5) scale(0.945,1)" text-anchor="middle" font-family="Liberation Serif, serif" font-size="21.5">after</text>
<text transform="translate(498,417.5) scale(0.945,1)" text-anchor="middle" font-family="Liberation Serif, serif" font-size="21.5">before</text>
<text transform="translate(654.4,417.5) scale(0.945,1)" text-anchor="middle" font-family="Liberation Serif, serif" font-size="21.5">after</text>
</svg></body></html>
